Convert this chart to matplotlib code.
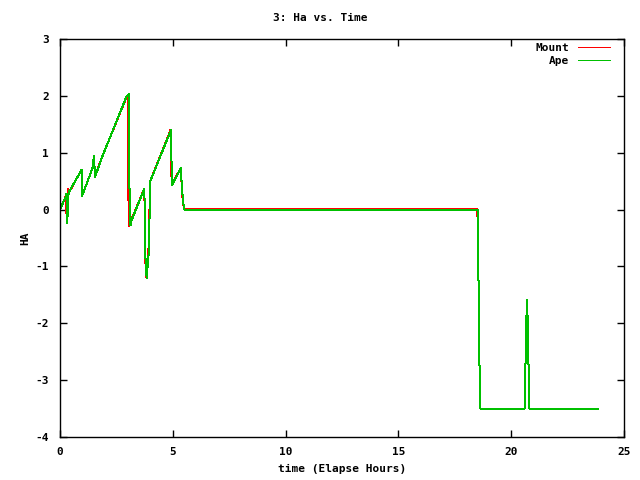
import matplotlib
matplotlib.use("Agg")
import matplotlib.pyplot as plt

# Mount (red) - elapsed hours vs HA
mount_t = [0, 0.22, 0.27, 0.29, 0.34, 0.36, 0.40, 0.95, 0.97, 1.45, 1.50, 1.55, 1.85,
           2.93, 3.00, 3.03, 3.06, 3.16, 3.74, 3.77, 3.82, 3.92, 4.00, 4.90, 4.95,
           5.35, 5.44, 5.50, 18.50, 18.54, 18.59, 18.63, 20.60, 20.62, 20.66,
           20.74, 20.78, 20.80, 23.85]
mount_ha = [0, 0.20, 0.27, -0.10, -0.10, 0.36, 0.30, 0.70, 0.23, 0.74, 0.94, 0.58, 0.91,
            1.96, 2.02, 0.29, -0.29, -0.18, 0.37, -0.80, -1.18, -0.72, 0.50, 1.40, 0.43,
            0.73, 0.14, 0.015, 0.015, -0.87, -2.63, -3.50, -3.50, -3.04, -2.08,
            -2.08, -3.04, -3.50, -3.50]

# Ape (green)
ape_t = [0, 0.24, 0.29, 0.31, 0.35, 0.38, 0.96, 0.98, 1.45, 1.50, 1.56, 1.85,
         2.95, 3.06, 3.08, 3.12, 3.18, 3.74, 3.78, 3.84, 3.94, 4.00, 4.92, 4.96,
         5.35, 5.45, 5.52, 18.51, 18.54, 18.59, 18.63, 20.60, 20.62, 20.66, 20.70,
         20.74, 20.78, 20.80, 23.85]
ape_ha = [0, 0.21, 0.28, -0.23, -0.05, 0.30, 0.70, 0.24, 0.74, 0.94, 0.58, 0.91,
          1.99, 2.04, 0.38, -0.28, -0.18, 0.37, -0.80, -1.20, -0.72, 0.50, 1.40, 0.43,
          0.73, 0.14, -0.005, -0.005, -0.87, -2.63, -3.50, -3.50, -3.04, -2.08, -1.59,
          -2.08, -3.04, -3.50, -3.50]

xticks = [0, 5, 10, 15, 20, 25]
yticks = [-4, -3, -2, -1, 0, 1, 2, 3]

font = {"family": "DejaVu Sans Mono", "weight": "bold", "size": 8}

fig = plt.figure(figsize=(6.4, 4.8), dpi=100)
ax = fig.add_axes([60 / 640, 43 / 480, 564 / 640, 398 / 480])

# one pixel wide, no smoothing, like the old png terminal
ax.plot(mount_t, mount_ha, color="#ff0000", lw=0.72, label="Mount", antialiased=False)
ax.plot(ape_t, ape_ha, color="#00c000", lw=0.72, label="Ape", antialiased=False)

ax.set_xlim(0, 25)
ax.set_ylim(-4, 3)
ax.set_xticks(xticks)
ax.set_yticks(yticks)
ax.set_xticklabels([str(v) for v in xticks], fontdict=font)
ax.set_yticklabels([str(v) for v in yticks], fontdict=font)
ax.tick_params(axis="x", direction="in", length=5, width=1, top=True, pad=7)
ax.tick_params(axis="y", direction="in", length=5, width=1, right=True, pad=8)
for s in ax.spines.values():
    s.set_linewidth(1)

fig.text(0.5, 1 - 18 / 480, "3: Ha vs. Time", ha="center", va="center", **font)
ax.set_xlabel("time (Elapse Hours)", fontdict=font, labelpad=5)
ax.set_ylabel("HA", fontdict=font, labelpad=4)

leg = ax.legend(loc="upper right", frameon=False, markerfirst=False,
                prop={"family": "DejaVu Sans Mono", "weight": "bold", "size": 8},
                handlelength=2.9, labelspacing=0.25, borderaxespad=0.1,
                borderpad=0.0, bbox_to_anchor=(1 - 13 / 564, 1 - 3 / 398))
for t in leg.get_texts():
    t.set_ha("right")

fig.savefig("out.png", dpi=100)
